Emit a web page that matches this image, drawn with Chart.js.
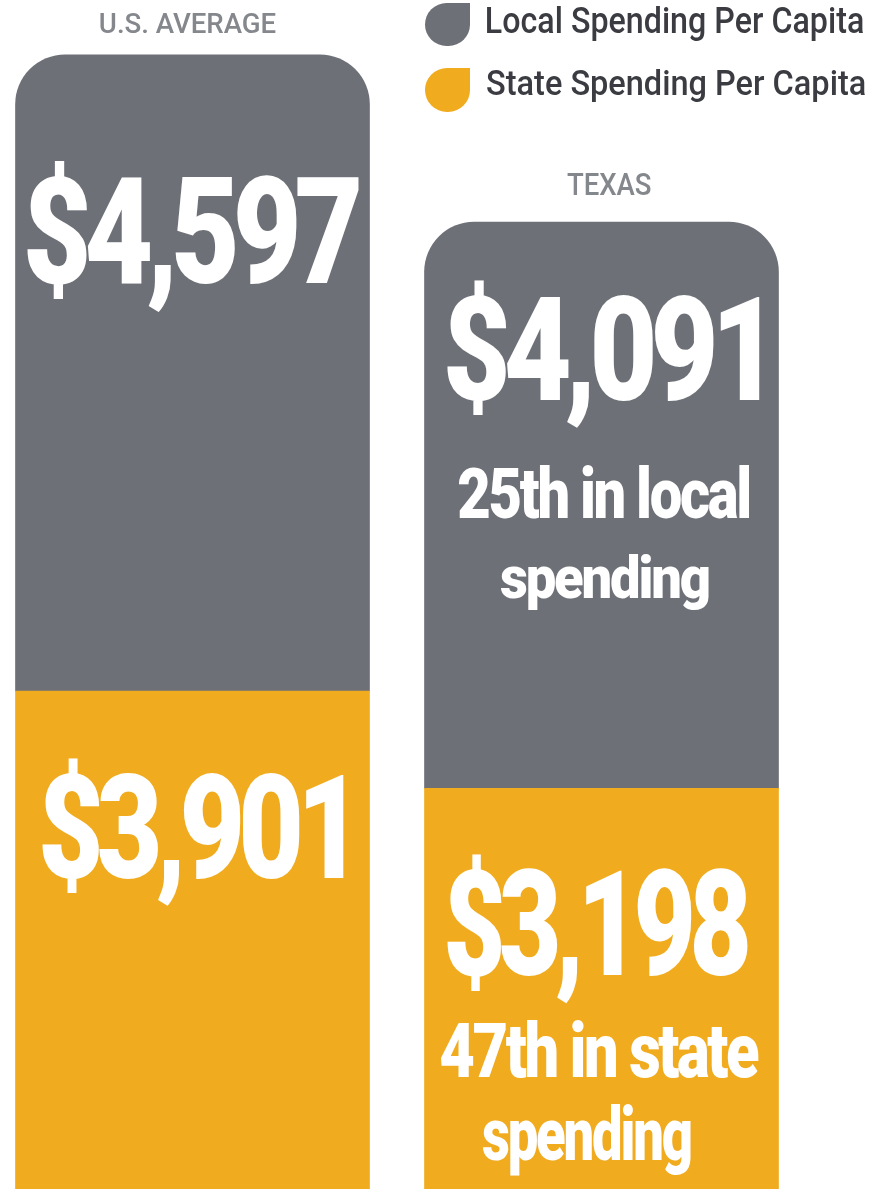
<!DOCTYPE html>
<html>
<head>
<meta charset="utf-8">
<style>
  html, body { margin: 0; padding: 0; background: #ffffff; overflow: hidden; }
  #wrap { position: absolute; left: -40px; top: 0; width: 957px; height: 1189px; }
</style>
<script src="https://cdn.jsdelivr.net/npm/chart.js@4/dist/chart.umd.min.js"></script>
</head>
<body>
<div id="wrap"><canvas id="c"></canvas></div>
<script>
// ---------------- data ----------------
const categories = ['U.S. AVERAGE', 'TEXAS'];
const seriesNames = ['Local Spending Per Capita', 'State Spending Per Capita'];
const localSpending = [4597, 4091];
const stateSpending = [3901, 3198];
const localRankNotes = [[], ['25th in local', 'spending']];
const stateRankNotes = [[], ['47th in state', 'spending']];

// ---------------- style ----------------
const GRAY = '#6d7077';
const ORANGE = '#f0ab1e';
const TITLE_COLOR = '#84878c';
const LEGEND_TEXT = '#3a3c42';
const PAGE_OFFSET = 40; // canvas is shifted 40px left of the page
const HEAVY = '900 100px Roboto, "Liberation Sans", sans-serif';
const LIGHT = '500 100px Roboto, "Liberation Sans", sans-serif';

// text boxes: dx from bar centre, ink top, baseline, ink width
const localValueBox = [{dx: 0.5, top: 160, base: 283, w: 331}, {dx: 2, top: 280, base: 400, w: 312}];
const stateValueBox = [{dx: 0.5, top: 758, base: 878, w: 301}, {dx: -4, top: 853, base: 975, w: 300}];
const localNoteBox = [[], [{dx: 2.5, top: 465, base: 518, w: 291}, {dx: 3, top: 553, base: 598, w: 208}]];
const stateNoteBox = [[], [{dx: -2, top: 1020, base: 1077, w: 318}, {dx: -15, top: 1105, base: 1160, w: 208}]];
const titleBox = [{dx: -4.5, top: 13, base: 33, w: 175}, {dx: 7.5, top: 173, base: 195, w: 83}];
const legendBox = [
  {icon: {x: 425, y: 3, w: 45, h: 43}, text: {left: 487, top: 5, base: 33, w: 376}},
  {icon: {x: 425, y: 68, w: 45, h: 44}, text: {left: 487, top: 68, base: 95, w: 378}}
];

function fmt(v) { return '$' + v.toLocaleString('en-US'); }

function fitText(ctx, text, left, top, base, width, font, color, spacing) {
  ctx.save();
  ctx.font = font;
  ctx.textAlign = 'left';
  ctx.textBaseline = 'alphabetic';
  if ('letterSpacing' in ctx) ctx.letterSpacing = spacing || '0px';
  const m = ctx.measureText(text);
  const inkW = m.actualBoundingBoxLeft + m.actualBoundingBoxRight;
  const asc = m.actualBoundingBoxAscent;
  const sx = width / inkW;
  const sy = (base - top) / asc;
  ctx.translate(left, base);
  ctx.scale(sx, sy);
  ctx.fillStyle = color;
  ctx.fillText(text, m.actualBoundingBoxLeft, 0);
  ctx.restore();
}

const labelPlugin = {
  id: 'labels',
  afterDatasetsDraw(chart) {
    const ctx = chart.ctx;
    const stateMeta = chart.getDatasetMeta(0);
    const localMeta = chart.getDatasetMeta(1);
    categories.forEach((cat, i) => {
      const lb = localMeta.data[i];
      const sb = stateMeta.data[i];
      let b = localValueBox[i];
      fitText(ctx, fmt(localSpending[i]), lb.x + b.dx - b.w / 2, b.top, b.base, b.w, HEAVY, '#ffffff', '-6px');
      b = stateValueBox[i];
      fitText(ctx, fmt(stateSpending[i]), sb.x + b.dx - b.w / 2, b.top, b.base, b.w, HEAVY, '#ffffff', '-6px');
      localRankNotes[i].forEach((t, k) => {
        const nb = localNoteBox[i][k];
        fitText(ctx, t, lb.x + nb.dx - nb.w / 2, nb.top, nb.base, nb.w, HEAVY, '#ffffff', '-4px');
      });
      stateRankNotes[i].forEach((t, k) => {
        const nb = stateNoteBox[i][k];
        fitText(ctx, t, sb.x + nb.dx - nb.w / 2, nb.top, nb.base, nb.w, HEAVY, '#ffffff', '-4px');
      });
      const tb = titleBox[i];
      fitText(ctx, cat, lb.x + tb.dx - tb.w / 2, tb.top, tb.base, tb.w, LIGHT, TITLE_COLOR, '0px');
    });
    const legendColors = [chart.data.datasets[1].backgroundColor, chart.data.datasets[0].backgroundColor];
    seriesNames.forEach((name, k) => {
      const L = legendBox[k];
      const r = Math.min(L.icon.w, L.icon.h) / 2;
      ctx.save();
      ctx.fillStyle = legendColors[k];
      ctx.beginPath();
      ctx.roundRect(L.icon.x + PAGE_OFFSET, L.icon.y, L.icon.w, L.icon.h, [r, 0, r, r]);
      ctx.fill();
      ctx.restore();
      fitText(ctx, name, L.text.left + PAGE_OFFSET, L.text.top, L.text.base, L.text.w, LIGHT, LEGEND_TEXT, '0px');
    });
  }
};

new Chart(document.getElementById('c'), {
  type: 'bar',
  data: {
    labels: categories,
    datasets: [
      {
        label: seriesNames[1],
        data: stateSpending,
        backgroundColor: ORANGE,
        borderWidth: 0,
        borderRadius: 0,
        barThickness: 354,
        stack: 's'
      },
      {
        label: seriesNames[0],
        data: localSpending,
        backgroundColor: GRAY,
        borderWidth: 0,
        borderRadius: {topLeft: 50, topRight: 50, bottomLeft: 0, bottomRight: 0},
        barThickness: 354,
        stack: 's'
      }
    ]
  },
  options: {
    responsive: true,
    maintainAspectRatio: false,
    animation: false,
    layout: {padding: {left: 28, right: 111, top: 0, bottom: 0}},
    scales: {
      x: {stacked: true, display: false},
      y: {stacked: true, display: false, min: 303, max: 8894}
    },
    plugins: {legend: {display: false}, tooltip: {enabled: false}}
  },
  plugins: [labelPlugin]
});
</script>
</body>
</html>
